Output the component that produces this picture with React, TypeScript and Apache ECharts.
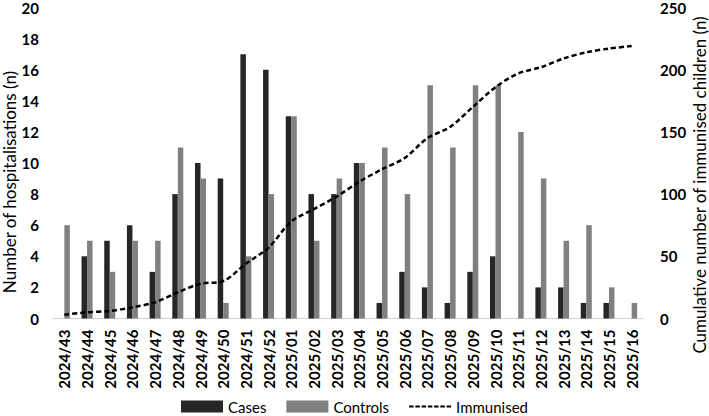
import React, { useEffect, useRef } from "react";
import * as echarts from "echarts";

const weeks = [
  "2024/43", "2024/44", "2024/45", "2024/46", "2024/47", "2024/48", "2024/49", "2024/50", "2024/51", "2024/52",
  "2025/01", "2025/02", "2025/03", "2025/04", "2025/05", "2025/06", "2025/07", "2025/08", "2025/09", "2025/10",
  "2025/11", "2025/12", "2025/13", "2025/14", "2025/15", "2025/16",
];
const cases = [0, 4, 5, 6, 3, 8, 10, 9, 17, 16, 13, 8, 8, 10, 1, 3, 2, 1, 3, 4, 0, 2, 2, 1, 1, 0];
const controls = [6, 5, 3, 5, 5, 11, 9, 1, 4, 8, 13, 5, 9, 10, 11, 8, 15, 11, 15, 15, 12, 9, 5, 6, 2, 1];
const immunised = [3, 5, 6, 9, 13, 21, 28, 30, 44, 57, 78, 88, 98, 110, 120, 129, 145, 154, 170, 186, 197, 202, 209, 214, 217, 219];

const leftTitle = "Number of hospitalisations (n)";
const rightTitle = "Cumulative number of immunised children (n)";

const FONT = "Lato, 'Open Sans', sans-serif";

const dashIcon =
  "path://M0,0h0.01v0.01h-0.01z M0,9.99h0.01v0.01h-0.01z " +
  [0, 1, 2, 3, 4, 5, 6].map((i) => `M${(i * 6.25).toFixed(2)},4h4.5v2h-4.5z`).join(" ");

export default function App() {
  const ref = useRef<HTMLDivElement>(null);
  useEffect(() => {
    if (!ref.current) return;
    const chart = echarts.init(ref.current, undefined, { renderer: "svg" });
    chart.setOption({
      animation: false,
      textStyle: { fontFamily: FONT },
      grid: { left: 53, right: 66, top: 7, bottom: 97.5 },
      legend: {
        top: 394,
        left: 176,
        itemWidth: 42,
        itemHeight: 12,
        itemGap: 20,
        textStyle: { fontFamily: FONT, fontSize: 15, color: "#000" },
        data: [
          { name: "Cases", icon: "rect" },
          { name: "Controls", icon: "rect" },
          { name: "Immunised", icon: dashIcon, itemStyle: { color: "#000" } },
        ],
      },
      graphic: [
        {
          type: "text",
          x: 9,
          y: 182,
          rotation: Math.PI / 2,
          style: {
            text: leftTitle,
            fontFamily: FONT,
            fontSize: 17,
            fill: "#000",
            align: "center",
            verticalAlign: "middle",
          },
        },
        {
          type: "text",
          x: 699,
          y: 185,
          rotation: Math.PI / 2,
          style: {
            text: rightTitle,
            fontFamily: FONT,
            fontSize: 17,
            fill: "#000",
            align: "center",
            verticalAlign: "middle",
          },
        },
      ],
      xAxis: {
        type: "category",
        data: weeks,
        axisLine: { lineStyle: { color: "#d0d0d0", width: 1 } },
        axisTick: { show: false },
        axisLabel: { rotate: 90, fontFamily: FONT, fontSize: 15, fontWeight: "bold", color: "#000", margin: 11, interval: 0 },
      },
      yAxis: [
        {
          type: "value",
          min: 0,
          max: 20,
          interval: 2,
          splitLine: { show: false },
          axisLine: { show: false },
          axisTick: { show: false },
          axisLabel: { fontFamily: FONT, fontSize: 15, fontWeight: "bold", color: "#000", margin: 14 },
        },
        {
          type: "value",
          min: 0,
          max: 250,
          interval: 50,
          splitLine: { show: false },
          axisLine: { show: false },
          axisTick: { show: false },
          axisLabel: { fontFamily: FONT, fontSize: 15, fontWeight: "bold", color: "#000", margin: 17 },
        },
      ],
      series: [
        {
          name: "Cases",
          type: "bar",
          data: cases,
          barWidth: 5.5,
          barGap: "0%",
          itemStyle: { color: "#262626" },
        },
        {
          name: "Controls",
          type: "bar",
          data: controls,
          barWidth: 5.5,
          itemStyle: { color: "#808080" },
        },
        {
          name: "Immunised",
          type: "line",
          yAxisIndex: 1,
          data: immunised,
          smooth: 0.3,
          symbol: "none",
          lineStyle: { color: "#000", width: 2.5, type: [5, 3] },
          itemStyle: { color: "#000" },
        },
      ],
    });
    return () => chart.dispose();
  }, []);
  return <div ref={ref} style={{ width: 709, height: 416, position: "absolute", left: 0, top: 0 }} />;
}
